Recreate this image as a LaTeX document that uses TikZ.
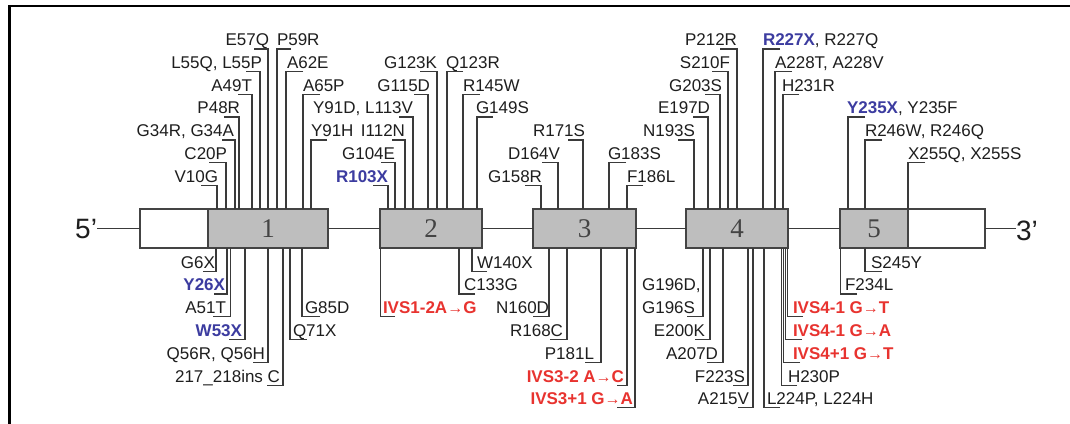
\documentclass[tikz,border=0pt]{standalone}
\usepackage{fontspec}
\setmainfont{Liberation Sans}
\newfontfamily\exnumfont{Liberation Serif}
\usetikzlibrary{calc}
\definecolor{txt}{HTML}{1E1E1E}
\definecolor{mblue}{HTML}{3C3CA0}
\definecolor{mred}{HTML}{E8332F}
\definecolor{linec}{HTML}{3A3A3A}
\definecolor{boxc}{HTML}{444444}
\definecolor{exfill}{HTML}{BEBEBE}
\newcommand\mutarrow{{\fontsize{16}{16}\selectfont →}}
\tikzset{
  lbl/.style={inner sep=0pt, outer sep=0pt, text=txt, font=\fontsize{17}{17}\selectfont},
  blu/.style={text=mblue, font=\fontsize{17}{17}\selectfont\bfseries},
  rd/.style={text=mred, font=\fontsize{17}{17}\selectfont\bfseries},
  lead/.style={draw=linec, line width=1.3pt},
  bb/.style={draw=linec, line width=1.4pt},
  exon/.style={draw=boxc, line width=1.6pt, fill=exfill, inner sep=0pt, outer sep=0pt,
    minimum height=39pt, anchor=north west, text=boxc, font=\exnumfont\fontsize{27}{27}\selectfont},
  utr/.style={exon, fill=white},
  endlbl/.style={inner sep=0pt, outer sep=0pt, text=txt, font=\fontsize{28}{28}\selectfont},
}
% top label, text left of its line
\newcommand\TL[8]{%
  \node[lbl,#2,anchor=base east] (#1) at (#4,#5) {#8};
  \coordinate (#1-a) at (#7,#5+3.5);
  \coordinate (#1-b) at (#6,#5+3.5);
  \draw[lead] (#1-a) -- (#1-b) -- (#1-b |- #3.north);}
% top label, text right of its line
\newcommand\TR[8]{%
  \node[lbl,#2,anchor=base west] (#1) at (#4,#5) {#8};
  \coordinate (#1-a) at (#7,#5+3.5);
  \coordinate (#1-b) at (#6,#5+3.5);
  \draw[lead] (#1-a) -- (#1-b) -- (#1-b |- #3.north);}
% bottom label, text left of its line
\newcommand\BL[8]{%
  \node[lbl,#2,anchor=base east] (#1) at (#4,#5) {#8};
  \coordinate (#1-a) at (#7,#5+3.5);
  \coordinate (#1-b) at (#6,#5+3.5);
  \draw[lead] (#1-a) -- (#1-b) -- (#1-b |- #3.south);}
% bottom label, text right of its line
\newcommand\BR[8]{%
  \node[lbl,#2,anchor=base west] (#1) at (#4,#5) {#8};
  \coordinate (#1-a) at (#7,#5+3.5);
  \coordinate (#1-b) at (#6,#5+3.5);
  \draw[lead] (#1-a) -- (#1-b) -- (#1-b |- #3.south);}
\begin{document}
\begin{tikzpicture}[x=1pt,y=-1pt]
\useasboundingbox[fill=white] (0,0) rectangle (1070,423);
% frame
\draw[line width=2.5pt, black] (9.5,430) -- (9.5,6) -- (1075,6);
% gene structure
\node[utr,  minimum width=68pt]  (u5) at (140,209) {};
\node[exon, minimum width=120pt] (e1) at (208,209) {1};
\node[exon, minimum width=102pt] (e2) at (380,209) {2};
\node[exon, minimum width=103pt] (e3) at (533,209) {3};
\node[exon, minimum width=102pt] (e4) at (686,209) {4};
\node[exon, minimum width=68pt]  (e5) at (840,209) {5};
\node[utr,  minimum width=77pt]  (u3) at (908,209) {};
\node[endlbl, anchor=base east] (p5) at (97,238) {5’};
\node[endlbl, anchor=base west] (p3) at (1016,240) {3’};
\draw[bb] (u5.west) -- (u5.west -| p5.east);
\draw[bb] (e1.east) -- (e2.west);
\draw[bb] (e2.east) -- (e3.west);
\draw[bb] (e3.east) -- (e4.west);
\draw[bb] (e4.east) -- (e5.west);
\draw[bb] (u3.east) -- (u3.east -| p3.west);
% exon 1 top
\TL{v10g}{}{e1}{218}{182}{217}{201}{V10G}
\TL{c20p}{}{e1}{227}{159}{226}{209}{C20P}
\TL{g34}{}{e1}{234}{136.5}{235}{222}{G34R, G34A}
\TL{p48r}{}{e1}{240}{113.5}{239}{224}{P48R}
\TL{a49t}{}{e1}{252}{91}{252}{238}{A49T}
\TL{l55}{}{e1}{262}{68}{260}{246}{L55Q, L55P}
\TL{e57q}{}{e1}{269}{45.5}{268}{254}{E57Q}
\TR{p59r}{}{e1}{277}{45.5}{277}{291}{P59R}
\TR{a62e}{}{e1}{287}{68}{286}{303}{A62E}
\TR{a65p}{}{e1}{303}{91}{303}{320}{A65P}
\TR{y91h}{}{e1}{311}{136.5}{311}{327}{Y91H}
% exon 1 bottom
\BL{g6x}{}{e1}{215}{268}{216}{203}{G6X}
\BL{y26x}{blu}{e1}{225}{290.5}{227}{214}{Y26X}
\BL{a51t}{}{e1}{226}{313}{230.5}{213}{A51T}
\BL{w53x}{blu}{e1}{242}{336}{245}{229}{W53X}
\BL{q56}{}{e1}{265}{359}{268}{253}{Q56R, Q56H}
\BL{ins}{}{e1}{280}{382}{283}{267}{217\_218ins C}
\BR{q71x}{}{e1}{293}{336}{290}{307}{Q71X}
\BR{g85d}{}{e1}{305}{313}{302}{320}{G85D}
% exon 2 top
\TL{r103x}{blu}{e2}{388}{182}{388}{373}{R103X}
\TL{g104e}{}{e2}{395}{159}{395}{381}{G104E}
\TL{i112n}{}{e2}{405}{136.5}{405}{392}{I112N}
\TL{l113v}{}{e2}{413}{113.5}{413}{399}{Y91D, L113V}
\TL{g115d}{}{e2}{430}{91}{428}{414}{G115D}
\TL{g123k}{}{e2}{437}{68}{437}{420}{G123K}
\TR{q123r}{}{e2}{446}{68}{447}{463}{Q123R}
\TR{r145w}{}{e2}{463}{91}{463}{480}{R145W}
\TR{g149s}{}{e2}{476}{113.5}{477}{493}{G149S}
% exon 2 bottom
\BR{ivs12}{rd}{e2}{383}{313}{380.5}{395}{IVS1-2A\mutarrow G}
\BR{c133g}{}{e2}{464}{290.5}{459}{475}{C133G}
\BR{w140x}{}{e2}{477}{268}{472}{487}{W140X}
% exon 3 top
\TL{g158r}{}{e3}{542}{182}{541}{525}{G158R}
\TL{d164v}{}{e3}{560}{159}{558}{542}{D164V}
\TL{r171s}{}{e3}{585}{136.5}{583}{568}{R171S}
\TR{g183s}{}{e3}{608}{159}{609}{626}{G183S}
\TR{f186l}{}{e3}{627}{182}{627}{643}{F186L}
% exon 3 bottom
\BL{n160d}{}{e3}{549}{313}{549}{533}{N160D}
\BL{r168c}{}{e3}{563}{336}{567}{550}{R168C}
\BL{p181l}{}{e3}{594}{359}{601}{585}{P181L}
\BL{ivs32}{rd}{e3}{624}{382}{627}{617}{IVS3-2 A\mutarrow C}
\BL{ivs31}{rd}{e3}{633}{404}{635}{617}{IVS3+1 G\mutarrow A}
% exon 4 top
\TL{n193s}{}{e4}{695}{136.5}{694}{678}{N193S}
\TL{e197d}{}{e4}{710}{113.5}{708}{693}{E197D}
\TL{g203s}{}{e4}{722}{91}{720}{705}{G203S}
\TL{s210f}{}{e4}{730}{68}{728}{712}{S210F}
\TL{p212r}{}{e4}{737}{45.5}{737}{720}{P212R}
\TR{r227}{}{e4}{763}{45.5}{763}{780}{{\color{mblue}\bfseries R227X}, R227Q}
\TR{a228}{}{e4}{775}{68}{775}{792}{A228T, A228V}
\TR{h231r}{}{e4}{782}{91}{783}{799}{H231R}
% exon 4 bottom
\BL{g196}{}{e4}{695}{313}{703}{687}{G196S}
\node[lbl, anchor=base west] (g196d) at ($(g196.base west)+(0,-22.5)$) {G196D,};
\BL{e200k}{}{e4}{705}{336}{710}{695}{E200K}
\BL{a207d}{}{e4}{718}{359}{723}{707}{A207D}
\BL{f223s}{}{e4}{745}{382}{748}{733}{F223S}
\BL{a215v}{}{e4}{749}{404}{753}{738}{A215V}
\BR{l224}{}{e4}{767}{404}{764}{780}{L224P, L224H}
\BR{h230p}{}{e4}{788}{382}{781.5}{797}{H230P}
\BR{ivs41p}{rd}{e4}{793}{359}{783.5}{800}{IVS4+1 G\mutarrow T}
\BR{ivs41a}{rd}{e4}{793}{336}{785.5}{802}{IVS4-1 G\mutarrow A}
\BR{ivs41t}{rd}{e4}{793}{313}{787.5}{803}{IVS4-1 G\mutarrow T}
% exon 5 top
\TR{y235}{}{e5}{847}{113.5}{848}{865}{{\color{mblue}\bfseries Y235X}, Y235F}
\TR{r246}{}{e5}{865}{136.5}{865}{882}{R246W, R246Q}
\TR{x255}{}{e5}{908}{159}{908}{925}{X255Q, X255S}
% exon 5 bottom
\BR{s245y}{}{e5}{871}{268}{865}{882}{S245Y}
\BR{f234l}{}{e5}{845}{290.5}{840.5}{857}{F234L}
\end{tikzpicture}
\end{document}
